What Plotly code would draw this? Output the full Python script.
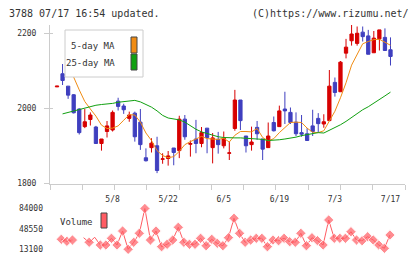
import plotly.graph_objects as go

# ---------------- data ----------------
open_ = [2057, 2092, 2059, 2036, 1998, 1951, 1970, 1950, 1906, 1938,
         1942, 2019, 2006, 1973, 1987, 1963, 1868, 1895, 1900, 1864,
         1866, 1894, 1887, 1971, 1904, 1918, 1906, 1947, 1895, 1917,
         1900, 1880, 1946, 2022, 1926, 1903, 1949, 1918, 1895, 1962,
         1951, 1998, 1989, 1963, 1935, 1932, 1953, 1973, 1958, 1967,
         2069, 2044, 2147, 2180, 2173, 2203, 2193, 2148, 2185, 2189, 2156]
close = [2059, 2074, 2035, 1988, 1935, 1964, 1982, 1906, 1918, 1953,
         1989, 2005, 1996, 1982, 1924, 1903, 1860, 1907, 1834, 1865,
         1873, 1882, 1971, 1924, 1906, 1906, 1935, 1922, 1921, 1903,
         1920, 1881, 2022, 1967, 1900, 1910, 1932, 1891, 1926, 1940,
         1993, 1993, 1962, 1932, 1931, 1914, 1938, 1959, 1964, 2059,
         2042, 2123, 2163, 2198, 2200, 2191, 2144, 2187, 2209, 2154, 2138]
high = [2059, 2118, 2059, 2038, 2000, 1998, 1989, 1953, 1918, 1966,
        1994, 2028, 2012, 1991, 1991, 1998, 1893, 1920, 1924, 1880,
        1886, 1894, 1980, 1982, 1914, 1969, 1950, 1947, 1934, 1937,
        1938, 1911, 2049, 2022, 1926, 1951, 1966, 1918, 1962, 1978,
        2007, 2044, 2002, 1989, 1982, 1947, 1996, 1987, 1984, 2102,
        2082, 2126, 2185, 2222, 2218, 2218, 2209, 2206, 2209, 2213, 2189]
low = [2057, 2062, 2025, 1986, 1930, 1947, 1954, 1906, 1887, 1922,
       1938, 1994, 1985, 1964, 1911, 1889, 1858, 1882, 1827, 1852,
       1847, 1848, 1867, 1916, 1871, 1880, 1896, 1880, 1853, 1879,
       1893, 1862, 1940, 1942, 1882, 1887, 1916, 1862, 1894, 1938,
       1951, 1958, 1958, 1926, 1924, 1914, 1926, 1936, 1948, 1967,
       2031, 2044, 2133, 2167, 2167, 2178, 2144, 2148, 2154, 2154, 2114]

ma5 = [None, None, 2110, 2083, 2049, 2018, 1998, 1979, 1955, 1946,
       1947, 1953, 1968, 1983, 1982, 1963, 1934, 1914, 1887, 1874,
       1868, 1871, 1885, 1903, 1911, 1917, 1925, 1919, 1918, 1917,
       1920, 1910, 1928, 1938, 1938, 1937, 1946, 1922, 1913, 1919,
       1935, 1948, 1962, 1963, 1962, 1947, 1936, 1935, 1940, 1966,
       1992, 2028, 2068, 2115, 2144, 2172, 2178, 2183, 2184, 2176, 2168]
ma25 = [None, 1985, 1989, 1994, 1998, 2001, 2005, 2008, 2010, 2011,
        2013, 2016, 2018, 2020, 2021, 2017, 2010, 2003, 1993, 1981,
        1974, 1971, 1969, 1963, 1953, 1944, 1937, 1932, 1927, 1924,
        1922, 1921, 1921, 1921, 1920, 1920, 1919, 1917, 1914, 1914,
        1916, 1918, 1920, 1923, 1927, 1930, 1933, 1935, 1934, 1941,
        1948, 1956, 1965, 1975, 1987, 1996, 2004, 2013, 2022, 2033, 2043]

volume = [30480, 27000, 29260, None, 33260, 25270, 33950, 20570, 20570, 32220,
          20570, 44900, 13100, 25270, 40900, 84000, 29260, 44900, 17620, 21790,
          29260, 51340, 25270, 21790, 21790, 32220, 19360, 30480, 23530, 19360,
          33260, 66980, 40900, 25270, 29260, 32220, 32220, 17620, 29260, 28050,
          32220, 26310, 25270, 40900, 19360, 33260, 28050, 20570, 64020, 32220,
          32220, 32220, 43690, 29260, 28050, 35000, 29260, 20570, 14840, 37950]
volume_hidden_markers = [4, 6]

date_ticks = [10, 20, 30, 40, 50, 60]
date_labels = ["5/8", "5/22", "6/5", "6/19", "7/3", "7/17"]
price_ticks = [1800, 2000, 2200]
vol_ticks = [13100, 48550, 84000]

# ---------------- styling ----------------
RED = "#d70000"
BLUE = "#3f3fbf"
ORANGE = "#f08c14"
GREEN = "#10a010"
VOLC = "#ff5c63"
AX = "#cccccc"
TXT = "#333333"
FONT = "DejaVu Sans Mono"

W, H = 420, 259
ML, MR, MT, MB = 50, 15, 25, 5
PW, PH = W - ML - MR, H - MT - MB


def fx(px):
    return (px - ML) / PW


def fy(py):
    return (H - MB - py) / PH


idx = list(range(len(open_)))
vidx = list(range(1, len(volume) + 1))
vsizes = [0 if k in volume_hidden_markers else 8 for k in range(len(volume))]

fig = go.Figure()
fig.add_trace(go.Candlestick(
    x=idx, open=open_, high=high, low=low, close=close,
    increasing=dict(line=dict(color=RED, width=1), fillcolor=RED),
    decreasing=dict(line=dict(color=BLUE, width=1), fillcolor=BLUE),
    whiskerwidth=0, xaxis="x", yaxis="y", showlegend=False, hoverinfo="skip"))
fig.add_trace(go.Scatter(x=idx, y=ma5, mode="lines", line=dict(color=ORANGE, width=1),
                         xaxis="x", yaxis="y", showlegend=False, hoverinfo="skip"))
fig.add_trace(go.Scatter(x=idx, y=ma25, mode="lines", line=dict(color=GREEN, width=1),
                         xaxis="x", yaxis="y", showlegend=False, hoverinfo="skip"))
fig.add_trace(go.Scatter(x=vidx, y=volume, mode="lines+markers",
                         line=dict(color=VOLC, width=1),
                         marker=dict(symbol="diamond", size=vsizes, color=VOLC),
                         xaxis="x2", yaxis="y2", showlegend=False, hoverinfo="skip",
                         connectgaps=False))
# empty trace to activate the overlay axes that carry the frame ticks
fig.add_trace(go.Scatter(x=[], y=[], xaxis="x3", yaxis="y3", showlegend=False))

main_bottom = fy(184)
vol_top = fy(204)

fig.update_layout(
    width=W, height=H, autosize=False, showlegend=False,
    margin=dict(l=ML, r=MR, t=MT, b=MB, pad=0, autoexpand=False),
    paper_bgcolor="white", plot_bgcolor="white",
    font=dict(family=FONT, size=8, color=TXT),
    boxgap=0.16,
    xaxis=dict(domain=[0, 1], anchor="y", range=[-1.26, 62.61], automargin=False,
               tickvals=date_ticks, ticktext=date_labels, ticks="",
               showline=False, showgrid=False, zeroline=False,
               rangeslider=dict(visible=False), ticklabelstandoff=9,
               tickfont=dict(family=FONT, size=8, color=TXT)),
    xaxis3=dict(overlaying="x", anchor="y", range=[0, 11], tickvals=list(range(12)),
                ticks="outside", ticklen=5, tickcolor=AX, tickwidth=1, automargin=False,
                showline=True, linecolor=AX, linewidth=1, showticklabels=False,
                showgrid=False, zeroline=False),
    yaxis=dict(domain=[main_bottom, 1], anchor="x", range=[1798, 2222], automargin=False,
               tickvals=price_ticks, ticks="outside", ticklen=5, tickcolor=AX,
               showline=True, linecolor=AX, linewidth=1, showgrid=False,
               zeroline=False, ticklabelstandoff=6,
               tickfont=dict(family=FONT, size=8, color=TXT)),
    yaxis3=dict(overlaying="y", anchor="x", range=[1798, 2222], tickvals=price_ticks,
                ticks="inside", ticklen=3, tickcolor=AX, showticklabels=False,
                automargin=False, showline=False, showgrid=False, zeroline=False),
    xaxis2=dict(domain=[0, 1], anchor="y2", range=[-1.03, 62.7], visible=False,
                automargin=False),
    yaxis2=dict(domain=[0, vol_top], anchor="x2", range=[4930, 91820], automargin=False,
                tickvals=vol_ticks, ticktext=[str(v) for v in vol_ticks], ticks="",
                showline=False, showgrid=False, zeroline=False, ticklabelstandoff=6,
                tickfont=dict(family=FONT, size=8, color=TXT)),
)

shapes = []
annotations = []
shapes.append(dict(type="rect", xref="paper", yref="paper", x0=fx(65), x1=fx(143),
                   y0=fy(77), y1=fy(30), fillcolor="white",
                   line=dict(color=AX, width=1), layer="above"))
shapes.append(dict(type="rect", xref="paper", yref="paper", x0=fx(131), x1=fx(137),
                   y0=fy(53), y1=fy(37), fillcolor=ORANGE,
                   line=dict(color="#444444", width=1), layer="above"))
shapes.append(dict(type="rect", xref="paper", yref="paper", x0=fx(131), x1=fx(137),
                   y0=fy(70), y1=fy(54), fillcolor=GREEN,
                   line=dict(color="#444444", width=1), layer="above"))
shapes.append(dict(type="rect", xref="paper", yref="paper", x0=fx(101), x1=fx(107),
                   y0=fy(228), y1=fy(213), fillcolor=VOLC,
                   line=dict(color="#444444", width=1), layer="above"))
fig.update_layout(shapes=shapes)


def label(text, px, py, anchor, size):
    annotations.append(dict(text=text, xref="paper", yref="paper", x=fx(px), y=fy(py),
                            xanchor=anchor, yanchor="middle", showarrow=False,
                            font=dict(family=FONT, size=size, color=TXT)))


label("5-day MA", 117, 46, "right", 9)
label("25-day MA", 117, 63, "right", 9)
label("Volume", 58, 222, "left", 9)
label("3788 07/17 16:54 updated.", 7, 13, "left", 10)
label("(C)https://www.rizumu.net/", 411, 13, "right", 10)
fig.update_layout(annotations=annotations)

fig.write_html("out.html")
